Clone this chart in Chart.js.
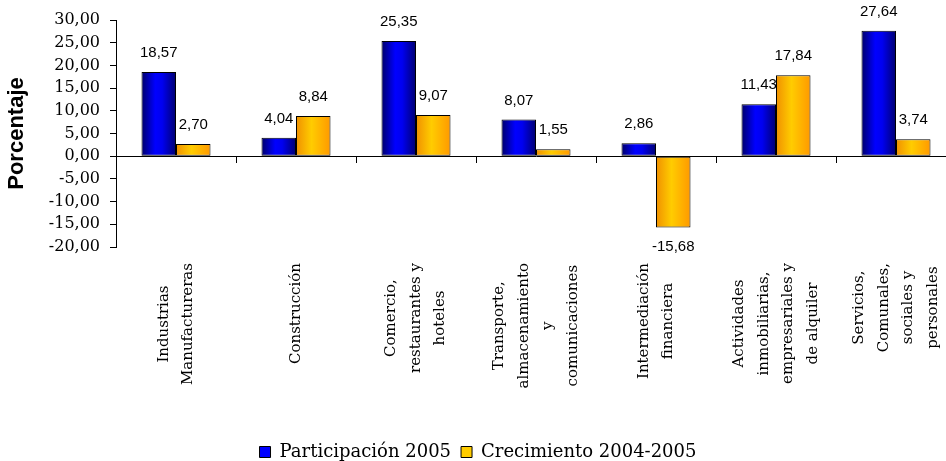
<!DOCTYPE html>
<html>
<head>
<meta charset="utf-8">
<script src="https://cdn.jsdelivr.net/npm/chart.js@4.4.1/dist/chart.umd.min.js"></script>
<style>
  html, body { margin: 0; padding: 0; background: #fff; overflow: hidden; }
  #wrap { width: 960px; height: 461px; }
</style>
</head>
<body>
<div id="wrap"><canvas id="chart"></canvas></div>
<script>
// categories (multi-line, as in the original axis)
const categories = [
  ["Industrias", "Manufactureras"],
  ["Construcción"],
  ["Comercio,", "restaurantes y", "hoteles"],
  ["Transporte,", "almacenamiento", "y", "comunicaciones"],
  ["Intermediación", "financiera"],
  ["Actividades", "inmobiliarias,", "empresariales y", "de alquiler"],
  ["Servicios,", "Comunales,", "sociales y", "personales"]
];
const participacion = [18.57, 4.04, 25.35, 8.07, 2.86, 11.43, 27.64];
const crecimiento = [2.70, 8.84, 9.07, 1.55, -15.68, 17.84, 3.74];
const seriesNames = ["Participación 2005", "Crecimiento 2004-2005"];
const yMin = -20, yMax = 30, yStep = 5;

const fmt = v => v.toFixed(2).replace('.', ',');

const blueStops = [[0, '#00006a'], [0.4, '#0000ff'], [0.6, '#0000f0'], [1, '#000070']];
const orangeStops = [[0, '#f09000'], [0.45, '#ffcc00'], [1, '#ff9900']];

// horizontal gradient per bar, like the spreadsheet fill
const barGradients = {
  id: 'barGradients',
  beforeDatasetsDraw(chart) {
    const ctx = chart.ctx;
    chart.data.datasets.forEach((ds, di) => {
      const stops = di === 0 ? blueStops : orangeStops;
      chart.getDatasetMeta(di).data.forEach(el => {
        const {x, width} = el.getProps(['x', 'width'], true);
        const g = ctx.createLinearGradient(x - width / 2, 0, x + width / 2, 0);
        stops.forEach(([o, c]) => g.addColorStop(o, c));
        el.options = Object.assign({}, el.options, {backgroundColor: g});
      });
    });
  }
};

// value labels above / below bars
const valueLabels = {
  id: 'valueLabels',
  afterDatasetsDraw(chart) {
    const ctx = chart.ctx;
    ctx.save();
    ctx.font = '15px "Liberation Sans", Arial, sans-serif';
    ctx.fillStyle = '#000';
    ctx.textAlign = 'center';
    ctx.textBaseline = 'middle';
    chart.data.datasets.forEach((ds, di) => {
      chart.getDatasetMeta(di).data.forEach((el, i) => {
        const v = ds.data[i];
        ctx.fillText(fmt(v), el.x, v >= 0 ? el.y - 19 : el.y + 19);
      });
    });
    ctx.restore();
  }
};

// vertical, centred category labels under the plot
const categoryLabels = {
  id: 'categoryLabels',
  afterDraw(chart) {
    const ctx = chart.ctx, xs = chart.scales.x;
    const top = chart.chartArea.bottom + 16;
    const lineGap = 24.5;
    ctx.save();
    ctx.font = '15px "DejaVu Serif", serif';
    ctx.fillStyle = '#000';
    ctx.textAlign = 'center';
    ctx.textBaseline = 'middle';
    categories.forEach((lines, i) => {
      const cx = xs.getPixelForValue(i);
      const maxW = Math.max(...lines.map(l => ctx.measureText(l).width));
      const cy = top + maxW / 2;
      lines.forEach((line, k) => {
        ctx.save();
        ctx.translate(cx + (k - (lines.length - 1) / 2) * lineGap, cy);
        ctx.rotate(-Math.PI / 2);
        ctx.fillText(line, 0, 0);
        ctx.restore();
      });
    });
    ctx.restore();
  }
};

Chart.defaults.font.family = '"DejaVu Serif", serif';
Chart.defaults.color = '#000';

new Chart(document.getElementById('chart'), {
  type: 'bar',
  data: {
    labels: categories.map(l => l.join(' ')),
    datasets: [
      { label: seriesNames[0], data: participacion, xAxisID: 'x', backgroundColor: '#0000ff', borderColor: '#000', borderWidth: 1, borderSkipped: false },
      { label: seriesNames[1], data: crecimiento, xAxisID: 'x', backgroundColor: '#ffcc00', borderColor: '#000', borderWidth: 1, borderSkipped: false }
    ]
  },
  options: {
    responsive: true,
    maintainAspectRatio: false,
    animation: false,
    layout: { padding: { top: 20, right: 4, bottom: -10, left: 0 } },
    datasets: { bar: { categoryPercentage: 0.575, barPercentage: 1 } },
    scales: {
      x: {
        type: 'category',
        position: { y: 0 },
        grid: { offset: true, drawOnChartArea: false, tickLength: 6, color: '#000' },
        border: { color: '#000' },
        ticks: { display: false }
      },
      x2: {
        type: 'category',
        position: 'bottom',
        grid: { display: false },
        border: { display: false },
        ticks: { display: false },
        afterFit(s) { s.height = 186; }
      },
      y: {
        min: yMin,
        max: yMax,
        ticks: { stepSize: yStep, padding: 10, color: '#000', font: { size: 16 }, callback: v => fmt(v) },
        grid: { drawOnChartArea: false, tickLength: 6, color: '#000' },
        border: { color: '#000' },
        title: {
          display: true, text: 'Porcentaje', color: '#000',
          font: { size: 22, weight: 'bold', family: '"Liberation Sans", Arial, sans-serif' },
          padding: { top: 4, bottom: 0 }
        },
        afterFit(s) { s.width = 116; }
      }
    },
    plugins: {
      tooltip: { enabled: false },
      legend: {
        position: 'bottom',
        labels: { boxWidth: 11, boxHeight: 11, padding: 10, color: '#000', font: { size: 18 } }
      }
    }
  },
  plugins: [barGradients, valueLabels, categoryLabels]
});
</script>
</body>
</html>
